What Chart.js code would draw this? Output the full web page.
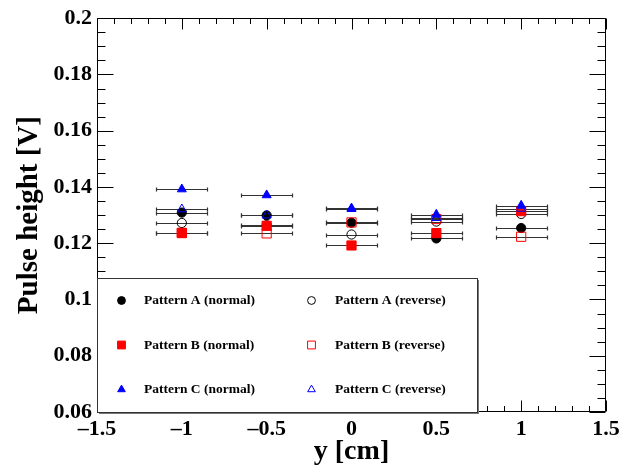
<!DOCTYPE html>
<html>
<head>
<meta charset="utf-8">
<script src="https://cdn.jsdelivr.net/npm/chart.js@4/dist/chart.umd.min.js"></script>
<style>
  html, body { margin: 0; padding: 0; background: #fff; }
  #wrap { width: 633px; height: 466px; }
</style>
</head>
<body>
<div id="wrap"><canvas id="chart" width="633" height="466"></canvas></div>
<script>
// beam position scan, pulse height per pattern
const positions = [-1, -0.5, 0, 0.5, 1];
const xErrors = [0.15, 0.15, 0.15, 0.15, 0.15];

const patternANormal = [0.1309, 0.1299, 0.1273, 0.1217, 0.1254];
const patternAReverse = [0.1272, 0.1264, 0.1231, 0.1277, 0.1304];
const patternBNormal = [0.1236, 0.1262, 0.1192, 0.1236, 0.1314];
const patternBReverse = [0.1237, 0.1235, 0.1274, 0.1286, 0.1223];
const patternCNormal = [0.1392, 0.1371, 0.1324, 0.1302, 0.1334];
const patternCReverse = [0.1321, 0.1299, 0.1322, 0.1290, 0.1323];

const seriesLabels = [
  "Pattern A (normal)", "Pattern A (reverse)",
  "Pattern B (normal)", "Pattern B (reverse)",
  "Pattern C (normal)", "Pattern C (reverse)",
];

const xTickValues = [-1.5, -1, -0.5, 0, 0.5, 1, 1.5];
const xTickLabels = ["\u20131.5", "\u20131", "\u20130.5", "0", "0.5", "1", "1.5"];
const yTickValues = [0.06, 0.08, 0.1, 0.12, 0.14, 0.16, 0.18, 0.2];
const yTickLabels = ["0.06", "0.08", "0.1", "0.12", "0.14", "0.16", "0.18", "0.2"];

const SERIF = "'Liberation Serif', 'Times New Roman', serif";

function makeSet(label, values, style, color, filled, order) {
  return {
    label: label,
    data: positions.map((x, i) => ({ x: x, y: values[i], xErr: xErrors[i] })),
    pointStyle: style,
    pointRadius: style === "rect" ? 6.5 : style === "triangle" ? 5.2 : 4.6,
    borderColor: color,
    backgroundColor: filled ? color : "rgba(0,0,0,0)",
    borderWidth: 1,
    showLine: false,
    order: order,
  };
}

const datasets = [
  makeSet(seriesLabels[0], patternANormal, "circle", "#000000", true, 6),
  makeSet(seriesLabels[1], patternAReverse, "circle", "#000000", false, 5),
  makeSet(seriesLabels[2], patternBNormal, "rect", "#ff0000", true, 4),
  makeSet(seriesLabels[3], patternBReverse, "rect", "#ff0000", false, 3),
  makeSet(seriesLabels[4], patternCNormal, "triangle", "#0000ff", true, 2),
  makeSet(seriesLabels[5], patternCReverse, "triangle", "#0000ff", false, 1),
];

// horizontal error bars with small end caps, under the markers
const errorBars = {
  id: "errorBars",
  beforeDatasetsDraw(chart) {
    const { ctx, scales: { x, y } } = chart;
    ctx.save();
    ctx.strokeStyle = "#333";
    ctx.lineWidth = 1.2;
    chart.data.datasets.forEach((ds) => {
      ds.data.forEach((p) => {
        const x0 = Math.round(x.getPixelForValue(p.x - p.xErr)) + 0.5;
        const x1 = Math.round(x.getPixelForValue(p.x + p.xErr)) + 0.5;
        const py = Math.round(y.getPixelForValue(p.y)) + 0.5;
        ctx.beginPath();
        ctx.moveTo(x0, py);
        ctx.lineTo(x1, py);
        ctx.moveTo(x0, py - 2);
        ctx.lineTo(x0, py + 2);
        ctx.moveTo(x1, py - 2);
        ctx.lineTo(x1, py + 2);
        ctx.stroke();
      });
    });
    ctx.restore();
  },
};

// frame with inward ticks on all four sides
const frameTicks = {
  id: "frameTicks",
  afterDatasetsDraw(chart) {
    const { ctx, chartArea: a, scales: { x, y } } = chart;
    ctx.save();
    ctx.strokeStyle = "#000";
    ctx.lineWidth = 1;
    ctx.beginPath();
    const L = Math.round(a.left) + 0.5, R = Math.round(a.right) - 0.5;
    const T = Math.round(a.top) + 0.5, B = Math.round(a.bottom) - 0.5;
    ctx.rect(L, T, R - L, B - T);

    for (let i = 0; i <= 30; i++) {
      const v = -1.5 + i * 0.1;
      const px = Math.round(x.getPixelForValue(v)) + 0.5;
      const len = i % 5 === 0 ? 11 : 5.5;
      ctx.moveTo(px, B);
      ctx.lineTo(px, B - len);
      ctx.moveTo(px, T);
      ctx.lineTo(px, T + len);
    }
    for (let i = 0; i <= 28; i++) {
      const v = 0.06 + i * 0.005;
      const py = Math.round(y.getPixelForValue(v)) + 0.5;
      const len = i % 4 === 0 ? 16 : 8;
      ctx.moveTo(L, py);
      ctx.lineTo(L + len, py);
      ctx.moveTo(R, py);
      ctx.lineTo(R - len, py);
    }
    ctx.stroke();
    ctx.restore();
  },
};

// boxed two-column legend in the lower left of the plot
const boxLegend = {
  id: "boxLegend",
  afterDraw(chart) {
    const { ctx } = chart;
    const box = { x: 97.5, y: 278.5, w: 380, h: 134 };
    ctx.save();
    ctx.fillStyle = "#777";
    ctx.fillRect(box.x + 1.5, box.y + 1.5, box.w, box.h);
    ctx.fillStyle = "#fff";
    ctx.fillRect(box.x, box.y, box.w, box.h);
    ctx.strokeStyle = "#333";
    ctx.lineWidth = 1;
    ctx.strokeRect(box.x, box.y, box.w, box.h);

    const colMarker = [121.5, 311.5];
    const colText = [144, 335];
    const rows = [300.5, 345, 389.5];
    ctx.font = "bold 13.5px " + SERIF;
    ctx.textBaseline = "middle";
    ctx.textAlign = "left";
    chart.data.datasets.forEach((ds, i) => {
      const c = i % 2, r = Math.floor(i / 2);
      ctx.fillStyle = ds.backgroundColor;
      ctx.strokeStyle = ds.borderColor;
      ctx.lineWidth = 1;
      Chart.helpers.drawPoint(ctx, {
        pointStyle: ds.pointStyle,
        radius: ds.pointRadius * 0.85,
        rotation: 0,
        borderWidth: 1,
      }, colMarker[c], rows[r]);
      ctx.fillStyle = "#000";
      ctx.fillText(ds.label, colText[c], rows[r] + 0.5);
    });
    ctx.restore();
  },
};

new Chart(document.getElementById("chart"), {
  type: "scatter",
  data: { datasets: datasets },
  options: {
    responsive: false,
    animation: false,
    events: [],
    layout: { padding: { top: 17, right: 27, left: 0, bottom: 0 } },
    plugins: { legend: { display: false }, tooltip: { enabled: false } },
    scales: {
      x: {
        type: "linear",
        min: -1.5,
        max: 1.5,
        afterFit(scale) { scale.height = 54; },
        afterBuildTicks(scale) { scale.ticks = xTickValues.map((v) => ({ value: v })); },
        grid: { display: false, drawTicks: false },
        border: { display: false },
        ticks: {
          color: "#000",
          padding: 4,
          maxRotation: 0,
          autoSkip: false,
          font: { family: SERIF, size: 22, weight: "bold" },
          callback: (v, i) => xTickLabels[i],
        },
        title: {
          display: true,
          text: "y [cm]",
          color: "#000",
          font: { family: SERIF, size: 28, weight: "bold", lineHeight: 1 },
          padding: { top: 0, bottom: 0 },
        },
      },
      y: {
        type: "linear",
        min: 0.06,
        max: 0.2,
        afterFit(scale) { scale.width = 97; },
        afterBuildTicks(scale) { scale.ticks = yTickValues.map((v) => ({ value: v })); },
        grid: { display: false, drawTicks: false },
        border: { display: false },
        ticks: {
          color: "#000",
          padding: 5,
          autoSkip: false,
          font: { family: SERIF, size: 22, weight: "bold" },
          callback: (v, i) => yTickLabels[i],
        },
        title: {
          display: true,
          text: "Pulse height [V]",
          color: "#000",
          font: { family: SERIF, size: 29, weight: "bold", lineHeight: 1 },
          padding: { top: 15, bottom: 0 },
        },
      },
    },
  },
  plugins: [errorBars, frameTicks, boxLegend],
});
</script>
</body>
</html>
